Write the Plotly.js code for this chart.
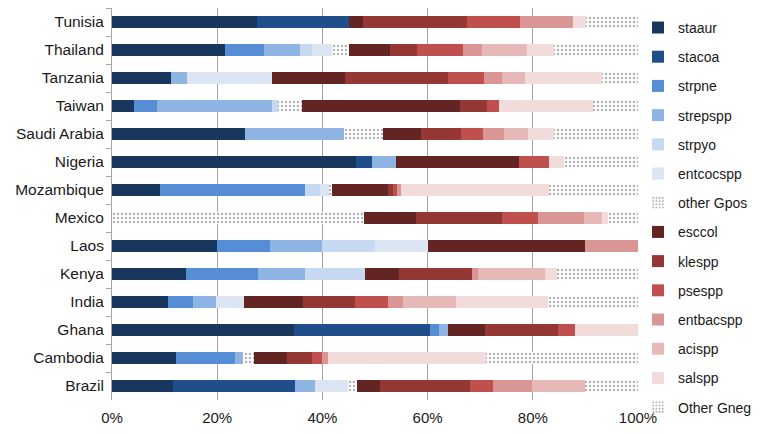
<!DOCTYPE html>
<html>
<head>
<meta charset="utf-8">
<script src="https://cdn.plot.ly/plotly-3.0.1.min.js"></script>
<style>
  body { margin: 0; background: #fff; }
  #chart { width: 781px; height: 434px; }
</style>
</head>
<body>
<div id="chart"></div>
<script>
// countries, top to bottom
var countries = ["Tunisia", "Thailand", "Tanzania", "Taiwan", "Saudi Arabia", "Nigeria",
  "Mozambique", "Mexico", "Laos", "Kenya", "India", "Ghana", "Cambodia", "Brazil"];

// share (%) of each organism per country, same order as countries
var staaur    = [27.6, 21.5, 11.2, 4.2, 25.3, 46.4, 9.1, 0, 20, 14.0, 10.6, 34.6, 12.2, 11.6];
var stacoa    = [17.5, 0, 0, 0, 0, 3.0, 0, 0, 0, 0, 0, 25.9, 0, 23.2];
var strpne    = [0, 7.4, 0, 4.4, 0, 0, 27.6, 0, 10, 13.8, 4.8, 1.7, 11.2, 0];
var strepspp  = [0, 6.8, 3.1, 21.8, 18.8, 4.6, 0, 0, 10, 8.9, 4.4, 1.7, 1.5, 3.8];
var strpyo    = [0, 2.3, 0, 1.2, 0, 0, 2.8, 0, 10, 11.4, 0, 0, 0, 0];
var entcocspp = [0, 3.8, 16.1, 0, 0, 0, 1.7, 0, 10, 0, 5.3, 0, 0, 6.3];
var otherGpos = [0, 3.2, 0, 4.5, 7.4, 0, 0.6, 47.9, 0, 0, 0, 0, 2.1, 1.7];
var esccol    = [2.6, 7.9, 13.9, 30.1, 7.2, 23.4, 10.7, 9.9, 30, 6.5, 11.2, 7.0, 6.3, 4.4];
var klespp    = [19.8, 5.1, 19.6, 5.1, 7.6, 0, 0.9, 16.3, 0, 13.8, 9.9, 13.9, 4.7, 17.1];
var psespp    = [10.1, 8.7, 6.8, 2.3, 4.2, 5.7, 0.7, 6.9, 0, 0, 6.3, 3.2, 1.9, 4.3];
var entbacspp = [10.0, 3.6, 3.4, 0, 4.0, 0, 0.9, 8.7, 10, 1.2, 2.8, 0, 1.2, 7.4];
var acispp    = [0, 8.6, 4.4, 0, 4.6, 0, 0, 3.4, 0, 12.7, 10.1, 0, 0, 10.1];
var salspp    = [2.5, 5.1, 14.6, 17.8, 4.9, 2.8, 28.1, 1.2, 0, 2.3, 17.5, 12.0, 30.0, 0];
var otherGneg = [9.9, 16.0, 6.9, 8.6, 16.0, 14.1, 16.9, 5.7, 0, 15.4, 17.1, 0, 28.9, 10.1];

var seriesNames = ["staaur", "stacoa", "strpne", "strepspp", "strpyo", "entcocspp", "other Gpos",
  "esccol", "klespp", "psespp", "entbacspp", "acispp", "salspp", "Other Gneg"];
var seriesValues = [staaur, stacoa, strpne, strepspp, strpyo, entcocspp, otherGpos,
  esccol, klespp, psespp, entbacspp, acispp, salspp, otherGneg];
var seriesColors = ["#17375e", "#1f4e8a", "#558ed5", "#8eb4e3", "#c6d9f1", "#dce6f2", "dots",
  "#632523", "#953735", "#c0504d", "#d99694", "#e6b9b8", "#f2dcdb", "dots"];

var data = [];
for (var i = 0; i < seriesNames.length; i++) {
  var marker;
  if (seriesColors[i] == "dots") {
    marker = {
      color: "#ffffff",
      pattern: { shape: ".", fgcolor: "#b3b3b3", bgcolor: "#ffffff", size: 4, solidity: 0.3 },
      line: { width: 0 }
    };
  } else {
    marker = { color: seriesColors[i], line: { width: 0 } };
  }
  data.push({
    type: "bar",
    orientation: "h",
    name: seriesNames[i],
    legendgroup: "g" + i,
    x: seriesValues[i],
    y: countries,
    marker: marker,
    hoverinfo: "name+x"
  });
}

var layout = {
  width: 781,
  height: 434,
  barmode: "stack",
  bargap: 0.6,
  paper_bgcolor: "#fff",
  plot_bgcolor: "#fff",
  margin: { l: 112, r: 143, t: 8, b: 34 },
  font: { family: "Liberation Sans, Arial, sans-serif", size: 15, color: "#1a1a1a" },
  xaxis: {
    range: [0, 100],
    dtick: 20,
    ticksuffix: "%",
    showgrid: true,
    gridcolor: "#a6a6a6",
    gridwidth: 1,
    zeroline: false,
    showline: false,
    ticks: "",
    ticklabelstandoff: 7,
    tickfont: { size: 15 },
    fixedrange: true
  },
  yaxis: {
    type: "category",
    autorange: "reversed",
    showline: true,
    linecolor: "#a6a6a6",
    linewidth: 1,
    ticks: "outside",
    tickson: "boundaries",
    ticklen: 5,
    tickcolor: "#a6a6a6",
    ticklabelstandoff: 4,
    showgrid: false,
    tickfont: { size: 15.5 },
    fixedrange: true
  },
  legend: {
    x: 1.0,
    xanchor: "left",
    y: 0.99,
    yanchor: "top",
    maxheight: 430,
    traceorder: "grouped",
    tracegroupgap: 8,
    font: { size: 14, color: "#1a1a1a" },
    itemwidth: 30,
    bgcolor: "rgba(0,0,0,0)"
  },
  showlegend: true
};

Plotly.newPlot("chart", data, layout, { displayModeBar: false, staticPlot: true });
</script>
</body>
</html>
